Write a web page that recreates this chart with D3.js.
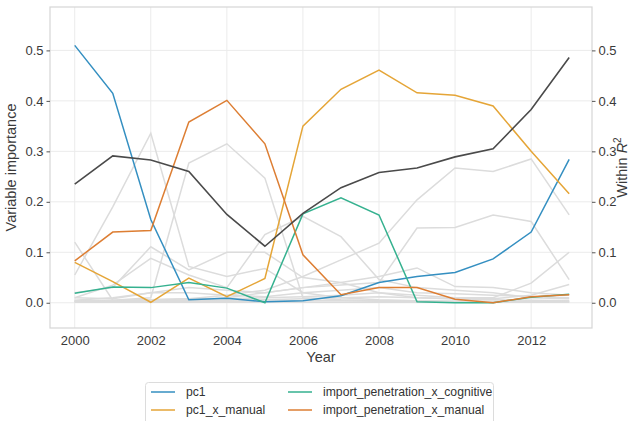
<!DOCTYPE html>
<html><head><meta charset="utf-8">
<script src="https://cdn.jsdelivr.net/npm/d3@7"></script>
<style>
body{margin:0;background:#fff;}
text{font-family:"Liberation Sans",Arial,sans-serif;}
</style></head>
<body><svg id="c" width="633" height="421"></svg>
<script>
const years = [2000,2001,2002,2003,2004,2005,2006,2007,2008,2009,2010,2011,2012,2013];
const pc1 = [0.51,0.415,0.165,0.006,0.009,0.002,0.004,0.014,0.04,0.052,0.06,0.087,0.14,0.284];
const pc1XManual = [0.08,0.042,0.001,0.049,0.012,0.048,0.35,0.423,0.461,0.416,0.411,0.39,0.30,0.216];
const ipXCognitive = [0.019,0.031,0.030,0.040,0.029,0.0,0.176,0.208,0.174,0.002,0.0,0.0,0.011,0.017];
const ipXManual = [0.083,0.14,0.143,0.358,0.401,0.315,0.095,0.016,0.030,0.030,0.007,0.0,0.012,0.016];
const withinR2 = [0.235,0.291,0.283,0.26,0.175,0.112,0.177,0.228,0.258,0.267,0.289,0.305,0.383,0.486];
const gray1 = [0.055,0.19,0.336,0.072,0.052,0.068,0.02,0.01,0.006,0.004,0.003,0.003,0.002,0.002];
const gray2 = [0.12,0.005,0.01,0.277,0.315,0.247,0.01,0.006,0.004,0.003,0.003,0.002,0.002,0.002];
const gray3 = [0.02,0.03,0.111,0.065,0.1,0.1,0.05,0.04,0.02,0.01,0.008,0.006,0.005,0.004];
const gray4 = [0.01,0.035,0.088,0.055,0.03,0.135,0.171,0.131,0.046,0.03,0.025,0.02,0.01,0.008];
const gray5 = [0.003,0.004,0.006,0.008,0.015,0.025,0.052,0.085,0.118,0.204,0.267,0.26,0.285,0.174];
const gray6 = [0.002,0.003,0.004,0.006,0.01,0.02,0.03,0.035,0.04,0.148,0.149,0.174,0.161,0.046];
const gray7 = [0.005,0.01,0.02,0.03,0.025,0.02,0.03,0.04,0.052,0.069,0.032,0.03,0.02,0.015];
const gray8 = [0.004,0.005,0.006,0.008,0.008,0.01,0.012,0.015,0.02,0.015,0.01,0.01,0.039,0.1];
const gray9 = [0.002,0.003,0.003,0.005,0.005,0.006,0.008,0.01,0.012,0.01,0.008,0.008,0.015,0.036];
const gray10 = [0.01,0.008,0.02,0.02,0.015,0.012,0.02,0.025,0.03,0.02,0.018,0.015,0.012,0.01];
const gray11 = [0.003,0.002,0.002,0.003,0.002,0.003,0.004,0.004,0.003,0.003,0.002,0.002,0.003,0.004];
const gray12 = [0.001,0.001,0.001,0.001,0.001,0.001,0.001,0.001,0.001,0.001,0.001,0.001,0.001,0.001];
const xTicks = [2000,2002,2004,2006,2008,2010,2012];
const yTicks = [0.0,0.1,0.2,0.3,0.4,0.5];
const seriesNames = ["pc1","pc1_x_manual","import_penetration_x_cognitive","import_penetration_x_manual"];
const seriesColors = ["#348fc1","#e5a537","#35b18f","#dd7e33"];

const grays = [gray1,gray2,gray3,gray4,gray5,gray6,gray7,gray8,gray9,gray10,gray11,gray12];
const colored = [pc1,pc1XManual,ipXCognitive,ipXManual];

const L=50,R=592,T=7,B=328;
const svg = d3.select("#c");
const x = d3.scaleLinear().domain([1999.35,2013.6]).range([L,R]);
const y = d3.scaleLinear().domain([-0.05,0.586]).range([B,T]);

// grid
svg.append("g").selectAll("line").data(yTicks).join("line")
  .attr("x1",L).attr("x2",R).attr("y1",d=>y(d)).attr("y2",d=>y(d))
  .attr("stroke","#ebebeb").attr("stroke-width",1);
svg.append("g").selectAll("line").data(xTicks).join("line")
  .attr("y1",T).attr("y2",B).attr("x1",d=>x(d)).attr("x2",d=>x(d))
  .attr("stroke","#ebebeb").attr("stroke-width",1);

const line = d3.line().x((d,i)=>x(years[i])).y(d=>y(d));
const g = svg.append("g");
grays.forEach(s=>g.append("path").attr("d",line(s)).attr("fill","none")
  .attr("stroke","#dcdcdc").attr("stroke-width",1.5));
colored.forEach((s,i)=>g.append("path").attr("d",line(s)).attr("fill","none")
  .attr("stroke",seriesColors[i]).attr("stroke-width",1.5));
g.append("path").attr("d",line(withinR2)).attr("fill","none")
  .attr("stroke","#4a4a4a").attr("stroke-width",1.6);

// frame
svg.append("rect").attr("x",L).attr("y",T).attr("width",R-L).attr("height",B-T)
  .attr("fill","none").attr("stroke","#d6d6d6").attr("stroke-width",1.2);

const fmt = d3.format(".1f");
const ax = d3.axisBottom(x).tickValues(xTicks).tickFormat(d3.format("d")).tickSize(0).tickPadding(8);
const axl = d3.axisLeft(y).tickValues(yTicks).tickFormat(fmt).tickSize(3.5).tickPadding(3);
const axr = d3.axisRight(y).tickValues(yTicks).tickFormat(fmt).tickSize(3.5).tickPadding(3);
function style(sel){
  sel.select(".domain").remove();
  sel.selectAll("line").attr("stroke","#555");
  sel.selectAll("text").attr("fill","#3a3a3a").attr("font-size",13).attr("font-family","Liberation Sans, Arial, sans-serif");
}
svg.append("g").attr("transform",`translate(0,${B})`).call(ax).call(style);
svg.append("g").attr("transform",`translate(${L},0)`).call(axl).call(style);
svg.append("g").attr("transform",`translate(${R},0)`).call(axr).call(style);

svg.append("text").attr("x",(L+R)/2).attr("y",362).attr("text-anchor","middle")
  .attr("font-size",14.5).attr("fill","#3a3a3a").text("Year");
svg.append("text").attr("transform",`translate(16,${(T+B)/2}) rotate(-90)`).attr("text-anchor","middle")
  .attr("font-size",14.5).attr("fill","#3a3a3a").text("Variable importance");
const rt = svg.append("text").attr("transform",`translate(627,${(T+B)/2}) rotate(-90)`).attr("text-anchor","middle")
  .attr("font-size",14.5).attr("fill","#3a3a3a");
rt.append("tspan").text("Within ");
rt.append("tspan").attr("font-style","italic").text("R");
rt.append("tspan").attr("dy",-6).attr("font-size",10).text("2");

// legend
const lg = svg.append("g");
lg.append("rect").attr("x",145.5).attr("y",382.5).attr("width",348).attr("height",50).attr("rx",3)
  .attr("fill","#fff").attr("stroke","#dcdcdc");
const pos = [[151,392],[151,410],[288,392],[288,410]];
seriesNames.forEach((n,i)=>{
  const [px,py]=pos[i];
  lg.append("line").attr("x1",px).attr("x2",px+24).attr("y1",py).attr("y2",py)
    .attr("stroke",seriesColors[i]).attr("stroke-width",1.5);
  lg.append("text").attr("x",px+35).attr("y",py+4.3).attr("font-size",12.2).attr("fill","#333").text(n);
});
</script></body></html>
